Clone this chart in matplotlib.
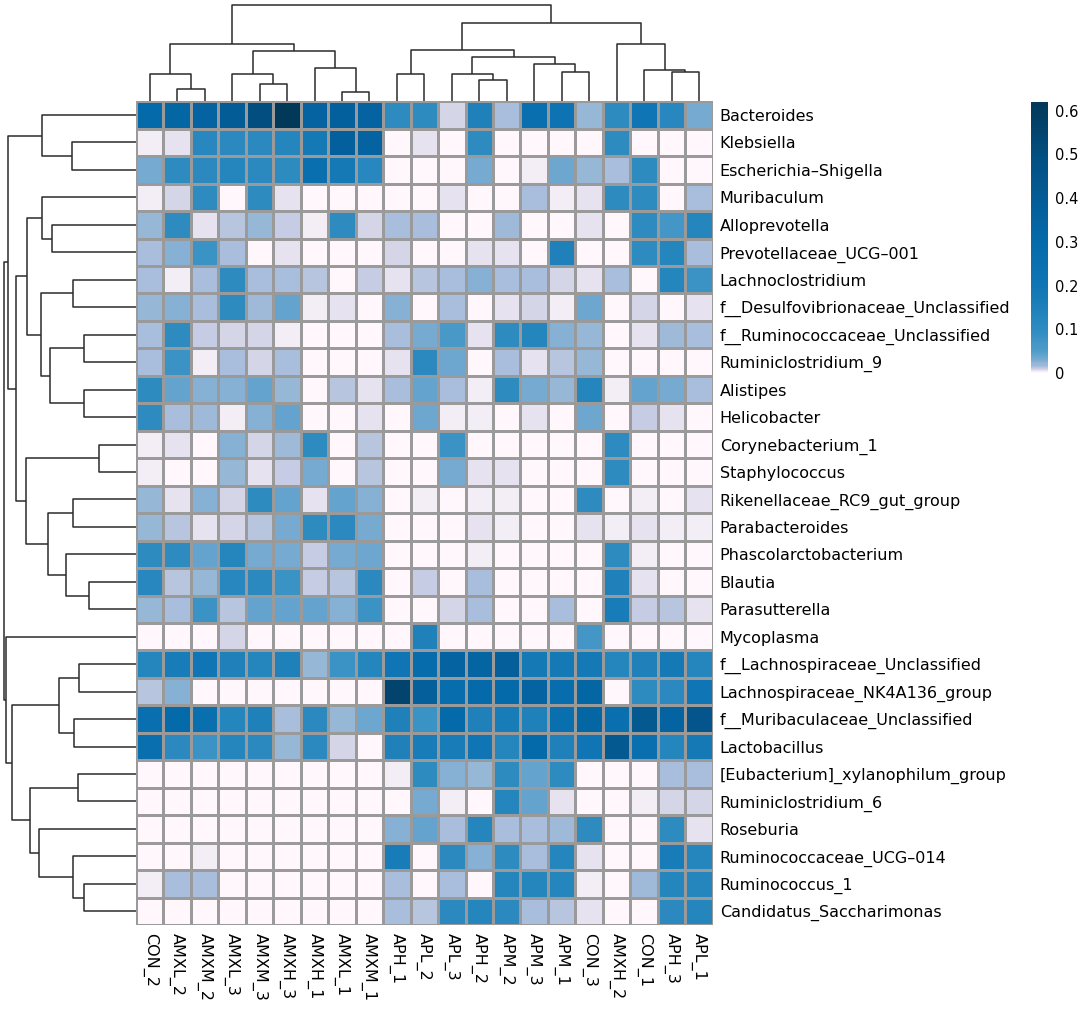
import numpy as np
import matplotlib
matplotlib.use('Agg')
import matplotlib.pyplot as plt
from matplotlib.colors import LinearSegmentedColormap, Normalize

plt.rcParams['font.family'] = ['DejaVu Sans']

# Samples (column order after clustering)
samples = ['CON_2', 'AMXL_2', 'AMXM_2', 'AMXL_3', 'AMXM_3', 'AMXH_3', 'AMXH_1',
           'AMXL_1', 'AMXM_1', 'APH_1', 'APL_2', 'APL_3', 'APH_2', 'APM_2',
           'APM_3', 'APM_1', 'CON_3', 'AMXH_2', 'CON_1', 'APH_3', 'APL_1']

# Genera (row order after clustering)
genera = ['Bacteroides', 'Klebsiella', 'Escherichia\u2013Shigella', 'Muribaculum',
          'Alloprevotella', 'Prevotellaceae_UCG\u2013001', 'Lachnoclostridium',
          'f__Desulfovibrionaceae_Unclassified', 'f__Ruminococcaceae_Unclassified',
          'Ruminiclostridium_9', 'Alistipes', 'Helicobacter', 'Corynebacterium_1',
          'Staphylococcus', 'Rikenellaceae_RC9_gut_group', 'Parabacteroides',
          'Phascolarctobacterium', 'Blautia', 'Parasutterella', 'Mycoplasma',
          'f__Lachnospiraceae_Unclassified', 'Lachnospiraceae_NK4A136_group',
          'f__Muribaculaceae_Unclassified', 'Lactobacillus',
          '[Eubacterium]_xylanophilum_group', 'Ruminiclostridium_6', 'Roseburia',
          'Ruminococcaceae_UCG\u2013014', 'Ruminococcus_1', 'Candidatus_Saccharimonas']

# Relative abundance, one list per genus
bacteroides = [0.30, 0.33, 0.35, 0.40, 0.50, 0.62, 0.35, 0.37, 0.35, 0.10, 0.10, 0.008, 0.15, 0.015, 0.25, 0.22, 0.02, 0.10, 0.20, 0.12, 0.03]
klebsiella = [0.004, 0.005, 0.12, 0.11, 0.11, 0.13, 0.18, 0.37, 0.35, 0, 0.006, 0, 0.10, 0, 0, 0, 0, 0.10, 0.002, 0, 0]
escherichia = [0.03, 0.10, 0.11, 0.13, 0.11, 0.10, 0.25, 0.18, 0.12, 0.002, 0.002, 0.001, 0.03, 0, 0.004, 0.035, 0.02, 0.015, 0.10, 0, 0]
muribaculum = [0.004, 0.008, 0.10, 0, 0.10, 0.006, 0.002, 0, 0, 0, 0, 0.005, 0, 0.001, 0.015, 0.004, 0.006, 0.10, 0.10, 0.001, 0.015]
alloprevotella = [0.02, 0.10, 0.006, 0.013, 0.02, 0.01, 0.003, 0.10, 0.009, 0.015, 0.016, 0, 0.002, 0.018, 0, 0, 0.006, 0, 0.10, 0.07, 0.13]
prevotellaceae = [0.015, 0.025, 0.08, 0.015, 0, 0.005, 0, 0, 0.002, 0.008, 0, 0, 0.006, 0.007, 0, 0.15, 0, 0, 0.10, 0.13, 0.016]
lachnoclostridium = [0.015, 0.004, 0.015, 0.10, 0.015, 0.015, 0.013, 0.001, 0.012, 0.006, 0.013, 0.015, 0.025, 0.015, 0.015, 0.008, 0.007, 0.015, 0.001, 0.13, 0.08]
desulfovibrionaceae = [0.02, 0.025, 0.015, 0.10, 0.018, 0.04, 0.004, 0.005, 0, 0.025, 0.001, 0.015, 0, 0.005, 0.009, 0.004, 0.035, 0, 0.008, 0, 0.005]
ruminococcaceae = [0.015, 0.10, 0.012, 0.008, 0.008, 0.004, 0, 0.001, 0, 0.015, 0.03, 0.06, 0.005, 0.10, 0.13, 0.025, 0.02, 0.001, 0.005, 0.018, 0.015]
ruminiclostridium_9 = [0.015, 0.08, 0.004, 0.015, 0.009, 0.015, 0, 0.002, 0, 0.007, 0.11, 0.035, 0, 0.015, 0.005, 0.013, 0.02, 0, 0.002, 0, 0]
alistipes = [0.10, 0.04, 0.025, 0.025, 0.04, 0.02, 0.0005, 0.013, 0.005, 0.015, 0.04, 0.015, 0.003, 0.10, 0.03, 0.02, 0.13, 0.004, 0.04, 0.03, 0.016]
helicobacter = [0.10, 0.015, 0.018, 0.004, 0.025, 0.04, 0, 0, 0.005, 0, 0.035, 0.003, 0.003, 0, 0.005, 0, 0.035, 0, 0.01, 0.005, 0.001]
corynebacterium = [0.004, 0.007, 0, 0.025, 0.008, 0.018, 0.10, 0.002, 0.013, 0, 0, 0.08, 0.002, 0, 0, 0, 0.001, 0.10, 0.002, 0, 0]
staphylococcus = [0.004, 0, 0, 0.02, 0.005, 0.01, 0.03, 0, 0.013, 0, 0, 0.03, 0.007, 0.005, 0, 0, 0, 0.10, 0.002, 0.002, 0]
rikenellaceae = [0.02, 0.006, 0.025, 0.009, 0.10, 0.04, 0.006, 0.04, 0.025, 0, 0.003, 0, 0.004, 0.003, 0.002, 0.0005, 0.10, 0, 0.004, 0, 0.006]
parabacteroides = [0.02, 0.013, 0.005, 0.009, 0.013, 0.03, 0.10, 0.11, 0.03, 0.002, 0, 0.002, 0.006, 0.004, 0.002, 0.002, 0.006, 0.003, 0.007, 0.003, 0.004]
phascolarctobacterium = [0.10, 0.10, 0.04, 0.13, 0.03, 0.03, 0.01, 0.03, 0.035, 0, 0, 0, 0.004, 0, 0, 0, 0, 0.10, 0.004, 0, 0]
blautia = [0.12, 0.013, 0.02, 0.12, 0.11, 0.08, 0.012, 0.013, 0.11, 0, 0.012, 0, 0.015, 0, 0, 0.002, 0, 0.15, 0.006, 0, 0]
parasutterella = [0.02, 0.015, 0.08, 0.013, 0.04, 0.04, 0.04, 0.025, 0.08, 0.0005, 0, 0.008, 0.015, 0, 0.0005, 0.015, 0.002, 0.17, 0.012, 0.013, 0.005]
mycoplasma = [0, 0, 0, 0.008, 0.0005, 0, 0, 0, 0, 0.0005, 0.15, 0, 0.002, 0, 0, 0, 0.07, 0, 0, 0.002, 0]
lachnospiraceae = [0.13, 0.17, 0.20, 0.15, 0.13, 0.15, 0.02, 0.08, 0.13, 0.20, 0.28, 0.35, 0.34, 0.38, 0.18, 0.18, 0.18, 0.13, 0.15, 0.18, 0.13]
nk4a136 = [0.013, 0.025, 0, 0, 0.002, 0, 0, 0, 0, 0.55, 0.38, 0.27, 0.30, 0.30, 0.35, 0.27, 0.33, 0, 0.10, 0.11, 0.20]
muribaculaceae = [0.25, 0.30, 0.25, 0.13, 0.15, 0.015, 0.11, 0.02, 0.035, 0.15, 0.08, 0.30, 0.15, 0.17, 0.15, 0.25, 0.33, 0.25, 0.42, 0.35, 0.45]
lactobacillus = [0.25, 0.11, 0.08, 0.13, 0.11, 0.02, 0.11, 0.008, 0.002, 0.15, 0.17, 0.17, 0.20, 0.13, 0.30, 0.15, 0.20, 0.42, 0.25, 0.13, 0.18]
eubacterium = [0, 0, 0, 0, 0, 0, 0, 0, 0, 0.004, 0.10, 0.025, 0.02, 0.10, 0.04, 0.10, 0.002, 0, 0, 0.015, 0.015]
ruminiclostridium_6 = [0, 0, 0, 0, 0, 0, 0, 0, 0, 0, 0.03, 0.004, 0, 0.13, 0.04, 0.005, 0.001, 0, 0.004, 0.009, 0.008]
roseburia = [0, 0, 0.001, 0, 0.001, 0.001, 0.001, 0, 0, 0.025, 0.04, 0.015, 0.13, 0.015, 0.015, 0.018, 0.10, 0, 0, 0.10, 0.007]
ucg014 = [0, 0, 0.003, 0, 0, 0, 0, 0, 0, 0.17, 0.002, 0.11, 0.025, 0.10, 0.015, 0.13, 0.007, 0, 0.001, 0.17, 0.13]
ruminococcus_1 = [0.004, 0.015, 0.015, 0, 0, 0, 0, 0, 0, 0.015, 0.001, 0.016, 0.002, 0.13, 0.13, 0.13, 0.004, 0, 0.018, 0.13, 0.13]
saccharimonas = [0, 0, 0, 0, 0, 0, 0, 0, 0, 0.015, 0.013, 0.11, 0.13, 0.11, 0.015, 0.013, 0.007, 0, 0, 0.11, 0.13]

# Column tree: (child a, child b, merge height); leaves 0..20, new nodes from 21
col_merges = [(1, 2, 35), (0, 21, 82), (4, 5, 52), (3, 23, 82), (7, 8, 28),
              (6, 25, 100), (24, 26, 150), (22, 27, 170), (9, 10, 82),
              (12, 13, 62), (11, 30, 80), (15, 16, 87), (14, 32, 110),
              (31, 33, 132), (29, 34, 153), (19, 20, 87), (18, 36, 92),
              (17, 37, 170), (35, 38, 232), (28, 39, 285)]

# Row tree: leaves 0..29, new nodes from 30
row_merges = [(1, 2, 64), (0, 30, 94), (4, 5, 84), (3, 32, 94), (6, 7, 63),
              (8, 9, 52), (10, 11, 52), (35, 36, 86), (34, 37, 95),
              (33, 38, 109), (12, 13, 37), (14, 15, 63), (17, 18, 47),
              (16, 42, 70), (41, 43, 88), (40, 44, 110), (39, 45, 120),
              (31, 46, 128), (20, 21, 57), (22, 23, 62), (48, 49, 77),
              (24, 25, 58), (28, 29, 52), (27, 52, 63), (26, 53, 97),
              (51, 54, 106), (50, 55, 124), (19, 56, 130), (47, 57, 132)]

data = np.array([bacteroides, klebsiella, escherichia, muribaculum, alloprevotella,
                 prevotellaceae, lachnoclostridium, desulfovibrionaceae,
                 ruminococcaceae, ruminiclostridium_9, alistipes, helicobacter,
                 corynebacterium, staphylococcus, rikenellaceae, parabacteroides,
                 phascolarctobacterium, blautia, parasutterella, mycoplasma,
                 lachnospiraceae, nk4a136, muribaculaceae, lactobacillus,
                 eubacterium, ruminiclostridium_6, roseburia, ucg014,
                 ruminococcus_1, saccharimonas])

vmax = 0.62
# PuBu-like palette with a compressed low end
nodes = [(0, '#FFF7FB'), (0.001, '#FAF3F9'), (0.004, '#ECE7F2'), (0.008, '#D0D1E6'),
         (0.015, '#A6BDDB'), (0.03, '#74A9CF'), (0.05, '#4F9CCA'), (0.1, '#2E8BC0'),
         (0.2, '#0F75B4'), (0.3, '#056AAA'), (0.4, '#045C96'), (0.5, '#034E80'),
         (0.62, '#023858')]
cmap = LinearSegmentedColormap.from_list('pubu_c', [(v / vmax, c) for v, c in nodes])
norm = Normalize(0, vmax)

fig = plt.figure(figsize=(10.84, 10.10), dpi=100)
W, H = 1084, 1010
hm_l, hm_r, hm_t, hm_b = 136, 712.7, 101.3, 925

ax = fig.add_axes([hm_l / W, 1 - hm_b / H, (hm_r - hm_l) / W, (hm_b - hm_t) / H])
mesh = ax.pcolormesh(data, cmap=cmap, norm=norm, edgecolors='#9a9a9a', linewidth=0.8)
ax.set_xlim(0, len(samples))
ax.set_ylim(len(genera), 0)
for s in ax.spines.values():
    s.set_visible(False)
ax.set_xticks(np.arange(len(samples)) + 0.5)
ax.set_xticklabels(samples, rotation=270, fontsize=11.5, va='top', ha='center')
ax.set_yticks(np.arange(len(genera)) + 0.5)
ax.set_yticklabels(genera, fontsize=11.5)
ax.yaxis.tick_right()
ax.tick_params(axis='both', length=0)
ax.tick_params(axis='x', pad=6)
ax.tick_params(axis='y', pad=5)


def draw_tree(axis, merges, n, top):
    pos = [i + 0.5 for i in range(n)]
    hgt = [0.0] * n
    for a, b, h in merges:
        if top:
            axis.plot([pos[a], pos[a], pos[b], pos[b]], [hgt[a], h, h, hgt[b]],
                      color='#2b2b2b', lw=1.1, solid_capstyle='butt')
        else:
            axis.plot([hgt[a], h, h, hgt[b]], [pos[a], pos[a], pos[b], pos[b]],
                      color='#2b2b2b', lw=1.1, solid_capstyle='butt')
        pos.append((pos[a] + pos[b]) / 2)
        hgt.append(h)


# Top dendrogram
axt = fig.add_axes([hm_l / W, 1 - hm_t / H, (hm_r - hm_l) / W, hm_t / H])
draw_tree(axt, col_merges, len(samples), True)
axt.set_xlim(0, len(samples))
axt.set_ylim(0, 300)
axt.axis('off')

# Left dendrogram
axl = fig.add_axes([0, 1 - hm_b / H, hm_l / W, (hm_b - hm_t) / H])
draw_tree(axl, row_merges, len(genera), False)
axl.set_xlim(hm_l, 0)
axl.set_ylim(len(genera), 0)
axl.axis('off')

# Colour legend
cax = fig.add_axes([1031 / W, 1 - 373 / H, 17 / W, 271 / H])
cb = fig.colorbar(mesh, cax=cax, ticks=[0, 0.1, 0.2, 0.3, 0.4, 0.5, 0.6])
cb.outline.set_visible(False)
cb.ax.set_yticklabels(['0', '0.1', '0.2', '0.3', '0.4', '0.5', '0.6'])
cb.ax.tick_params(length=0, labelsize=10.5, pad=5)

fig.savefig('out.png', dpi=100)
